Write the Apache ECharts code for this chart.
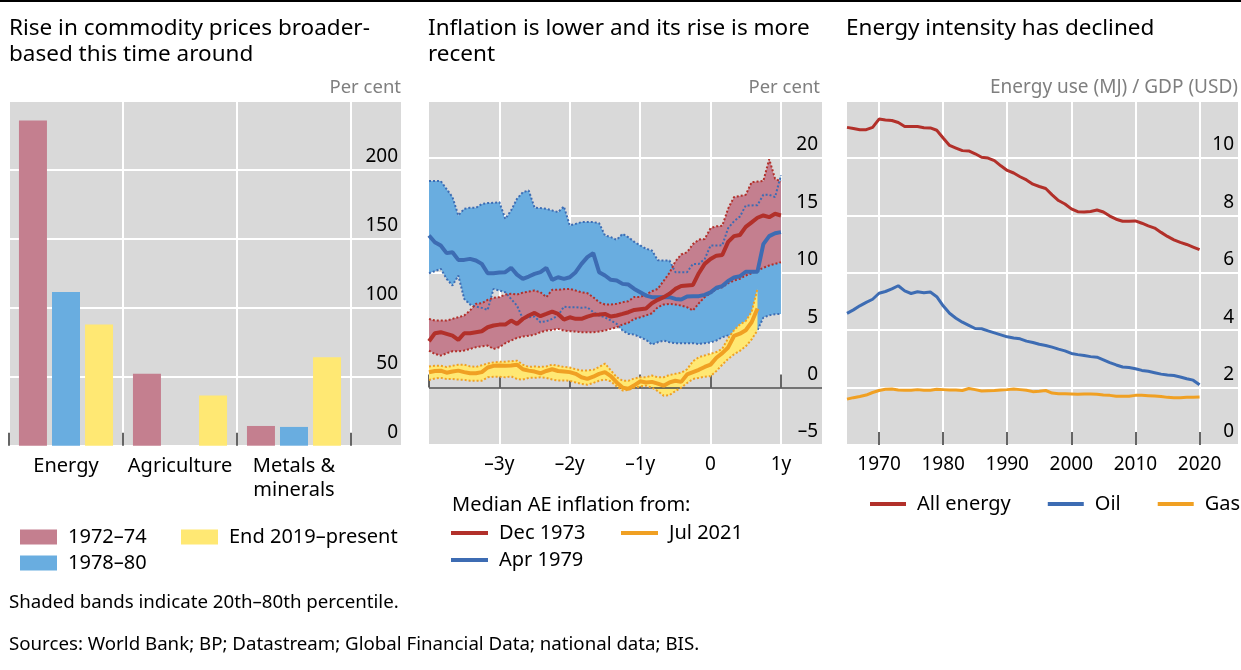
<!DOCTYPE html>
<html lang="en">
<head>
<meta charset="utf-8">
<style>
    html, body {
        margin: 0;
        padding: 0;
        background: #fff;
        overflow: hidden;
    }
    #chart {
        width: 1241px;
        height: 670px;
    }
</style>
</head>
<body>
<div id="chart"></div>
<script src="https://cdn.jsdelivr.net/npm/echarts@6.0.0/dist/echarts.min.js"></script>
<script>
// left panel: rise in commodity prices, per cent
var barCategories = ['Energy', 'Agriculture', 'Metals &\nminerals'];
var rise7274 = [235.7, 52.2, 14.3];
var rise7880 = [111.4, null, 13.6];
var riseEnd19 = [87.9, 36.4, 64.1];

// middle panel: median AE inflation, monthly from -48 to +12 (Jul 2021 to +8)
var dec73Median = [4.04, 4.74, 4.83, 4.68, 4.53, 4.16, 4.74, 4.74, 4.83, 4.91, 5.26, 5.41, 5.49, 5.49, 5.84, 5.55, 5.99, 6.28, 6.51, 6.22,
    6.42, 6.63, 6.42, 5.93, 6.13, 5.99, 5.99, 6.19, 6.34, 6.37, 6.42, 6.19, 6.28, 6.42, 6.57, 6.77, 6.83, 6.89, 7.35, 7.65,
    7.88, 8.17, 8.6, 8.85, 8.9, 8.95, 9.97, 10.78, 11.2, 11.5, 11.55, 12.7, 13.2, 13.3, 14.0, 14.4, 14.8, 15.0, 14.85, 15.15, 15.0];
var dec73Upper = [5.99, 5.84, 5.84, 5.84, 5.99, 6.13, 6.28, 6.72, 7.3, 7.35, 7.65, 7.82, 7.88, 8.11, 8.17, 8.11, 8.28, 8.37, 8.46, 8.31,
    7.88, 8.52, 8.52, 8.58, 8.6, 8.46, 8.31, 8.23, 7.88, 7.44, 7.24, 7.24, 7.3, 7.44, 7.53, 7.9, 7.9, 8.1, 8.4, 8.6,
    9.3, 10.0, 11.0, 11.6, 11.8, 12.5, 12.9, 12.95, 13.9, 14.05, 14.1, 15.6, 16.6, 16.7, 16.8, 17.9, 17.95, 18.0, 19.9, 18.2, 17.95];
var dec73Lower = [3.23, 2.94, 2.79, 2.99, 3.17, 3.17, 3.23, 3.37, 3.52, 3.6, 3.66, 3.37, 3.52, 3.87, 4.1, 4.33, 4.45, 4.51, 4.62, 4.83,
    4.97, 5.03, 5.12, 4.97, 4.91, 4.88, 4.83, 4.83, 4.83, 4.88, 4.97, 5.12, 5.26, 5.5, 5.65, 5.99, 6.13, 6.28, 6.48, 7.0,
    7.24, 7.3, 7.24, 7.15, 7.0, 6.72, 7.35, 7.88, 8.23, 8.6, 8.75, 9.1, 9.33, 9.48, 9.77, 9.97, 10.2, 10.44, 10.64, 10.78, 10.93];
var apr79Median = [13.26, 12.67, 12.38, 11.72, 11.8, 11.13, 11.13, 11.22, 11.08, 10.78, 9.97, 9.97, 10.03, 10.06, 10.44, 9.85, 9.48, 9.68, 9.91, 10.06,
    10.44, 9.39, 9.62, 9.48, 9.62, 10.06, 10.78, 11.37, 11.72, 10.06, 9.77, 9.39, 9.33, 9.04, 8.98, 8.6, 8.31, 8.02, 7.88, 7.88,
    7.88, 7.88, 7.73, 7.67, 7.94, 7.97, 7.97, 8.08, 8.3, 8.7, 8.85, 9.3, 9.6, 9.7, 10.1, 10.1, 10.1, 12.5, 13.2, 13.45, 13.55];
var apr79Upper = [18.0, 18.0, 18.0, 17.3, 16.6, 15.0, 15.58, 15.67, 15.67, 16.0, 16.08, 16.1, 16.16, 14.7, 15.44, 16.45, 17.03, 17.18, 15.67, 15.64,
    15.58, 15.44, 15.29, 15.78, 14.13, 14.27, 14.42, 14.42, 14.42, 14.33, 13.26, 13.11, 12.88, 13.4, 13.1, 12.7, 12.4, 12.1, 11.95, 11.1,
    11.07, 11.07, 10.06, 10.06, 10.06, 10.78, 10.78, 11.2, 12.38, 12.38, 12.4, 13.9, 14.5, 14.9, 15.87, 15.87, 15.9, 16.8, 16.8, 16.6, 18.5];
var apr79Lower = [9.97, 10.15, 10.35, 9.48, 8.9, 9.77, 7.73, 7.24, 7.06, 6.95, 6.77, 8.6, 8.46, 8.31, 7.73, 7.15, 5.99, 6.13, 6.19, 5.7,
    5.78, 5.99, 6.28, 7.06, 7.0, 7.0, 6.95, 7.0, 6.57, 6.28, 6.13, 5.84, 5.55, 4.97, 4.68, 4.62, 4.39, 4.16, 3.75, 3.95,
    4.1, 3.95, 3.87, 3.87, 3.87, 3.87, 3.8, 3.87, 3.95, 4.1, 4.39, 4.55, 4.6, 4.65, 4.8, 4.9, 5.0, 6.1, 6.3, 6.4, 6.42];
var jul21Median = [1.34, 1.45, 1.48, 1.3, 1.4, 1.48, 1.35, 1.25, 1.25, 1.35, 1.75, 1.9, 1.92, 1.9, 1.92, 2.0, 1.6, 1.48, 1.4, 1.25,
    1.45, 1.6, 1.45, 1.4, 1.35, 1.2, 0.9, 0.76, 0.95, 1.2, 1.35, 1.0, 0.45, 0.0, -0.1, 0.2, 0.55, 0.45, 0.5, 0.35,
    0.17, 0.45, 0.6, 0.5, 1.15, 1.35, 1.55, 1.8, 2.0, 2.6, 3.0, 3.5, 4.5, 4.7, 5.0, 5.7, 6.9];
var jul21Upper = [1.83, 1.9, 1.9, 1.8, 1.9, 2.0, 2.0, 1.85, 1.8, 1.95, 2.1, 2.2, 2.25, 2.25, 2.3, 2.35, 2.0, 1.8, 1.85, 1.8,
    1.85, 2.0, 1.9, 1.8, 1.75, 1.6, 1.5, 1.5, 1.55, 1.8, 2.1, 1.5, 0.9, 0.6, 0.6, 0.8, 0.9, 0.9, 1.05, 0.9,
    0.9, 1.1, 1.2, 1.3, 1.6, 2.3, 2.65, 2.8, 2.95, 3.1, 3.4, 4.3, 5.0, 5.5, 5.8, 6.6, 8.6];
var jul21Lower = [0.67, 0.8, 0.85, 0.75, 0.75, 0.7, 0.68, 0.6, 0.6, 0.6, 0.9, 0.95, 0.95, 0.9, 0.98, 0.75, 0.7, 0.85, 0.85, 0.9,
    0.85, 0.7, 0.62, 0.62, 0.6, 0.45, 0.32, 0.25, 0.4, 0.6, 0.7, 0.55, 0.1, -0.25, -0.2, 0.0, 0.1, 0.17, 0.0, -0.3,
    -0.7, -0.65, -0.3, 0.0, 0.4, 0.75, 0.85, 0.95, 1.0, 1.45, 2.0, 2.5, 2.9, 3.2, 3.6, 4.2, 5.0];

// right panel: energy use (MJ) per USD of GDP, 1965-2020
var allEnergy = [11.07, 11.03, 10.99, 10.99, 11.07, 11.36, 11.33, 11.31, 11.24, 11.1, 11.1, 11.1, 11.06, 11.05, 10.97, 10.7,
    10.44, 10.35, 10.26, 10.25, 10.15, 10.03, 10.0, 9.91, 9.73, 9.57, 9.48, 9.35, 9.24, 9.09, 9.01, 8.94,
    8.72, 8.52, 8.4, 8.23, 8.13, 8.12, 8.14, 8.19, 8.12, 7.98, 7.87, 7.8, 7.8, 7.81, 7.73, 7.64,
    7.56, 7.41, 7.27, 7.15, 7.06, 6.99, 6.9, 6.81];
var oil = [4.59, 4.71, 4.85, 4.97, 5.08, 5.29, 5.35, 5.44, 5.55, 5.37, 5.28, 5.34, 5.31, 5.33, 5.17, 4.85,
    4.59, 4.42, 4.28, 4.17, 4.06, 4.05, 3.98, 3.91, 3.84, 3.77, 3.73, 3.7, 3.62, 3.57, 3.51, 3.47,
    3.41, 3.34, 3.28, 3.19, 3.15, 3.12, 3.08, 3.06, 2.97, 2.87, 2.79, 2.72, 2.7, 2.66, 2.6, 2.57,
    2.52, 2.47, 2.44, 2.42, 2.37, 2.31, 2.26, 2.1];
var gas = [1.6, 1.65, 1.69, 1.74, 1.83, 1.9, 1.94, 1.95, 1.92, 1.91, 1.91, 1.93, 1.91, 1.91, 1.94, 1.93,
    1.92, 1.92, 1.9, 1.97, 1.93, 1.88, 1.89, 1.9, 1.92, 1.93, 1.95, 1.93, 1.91, 1.86, 1.87, 1.9,
    1.81, 1.79, 1.79, 1.78, 1.77, 1.78, 1.78, 1.77, 1.74, 1.73, 1.7, 1.7, 1.7, 1.73, 1.73, 1.72,
    1.71, 1.69, 1.66, 1.65, 1.65, 1.66, 1.66, 1.67];

var months = [];
for (var m = -48; m <= 19; m++) months.push(m);
var years = [];
for (var y = 1965; y <= 2026; y++) years.push(String(y));

var FONT = '"Noto Sans", "Open Sans", sans-serif';
var BG = '#d9d9d9';
var TICK = '#333333';
var PINK = '#c47f8f', LIGHTBLUE = '#69ade0', LIGHTYELLOW = '#ffe873';
var RED = '#b2302a', BLUE = '#3d6cb3', ORANGE = '#f0a023';

function dash(v) { return v < 0 ? '\u2013' + (-v) : String(v); }

function rightValueAxis(grid, min, max, step, hideTop) {
    return {
        type: 'value', gridIndex: grid, position: 'right',
        min: min, max: max, interval: step,
        axisLine: {show: false}, axisTick: {show: false},
        splitLine: {show: true, lineStyle: {color: '#fff', width: 2}},
        axisLabel: {
            inside: true, margin: 4, color: '#000', fontFamily: FONT, fontSize: 19,
            verticalAlign: 'bottom', lineHeight: 26,
            formatter: function (v) { return v === hideTop ? '' : dash(v); }
        }
    };
}

function bandSeries(key, lower, upper, fill, z) {
    var diff = upper.map(function (u, i) { return +(u - lower[i]).toFixed(3); });
    return [
        {type: 'line', name: key + ' base', xAxisIndex: 2, yAxisIndex: 2, data: lower, stack: key, stackStrategy: 'all',
            symbol: 'none', lineStyle: {opacity: 0}, silent: true, z: z},
        {type: 'line', name: key + ' band', xAxisIndex: 2, yAxisIndex: 2, data: diff, stack: key, stackStrategy: 'all',
            symbol: 'none', lineStyle: {opacity: 0}, areaStyle: {color: fill, opacity: 1}, silent: true, z: z}
    ];
}

function dottedSeries(name, data, color, z) {
    return {type: 'line', name: name, xAxisIndex: 2, yAxisIndex: 2, data: data, symbol: 'none', silent: true,
        lineStyle: {color: color, width: 2, type: [2, 2]}, z: z};
}

function solidSeries(name, axis, data, color, width, z) {
    return {type: 'line', name: name, xAxisIndex: axis, yAxisIndex: axis, data: data, symbol: 'none', silent: true,
        color: color, lineStyle: {color: color, width: width}, z: z};
}

function text(x, y, str, opts) {
    opts = opts || {};
    return {
        type: 'text', x: x, y: y, silent: true,
        style: {
            text: str, fill: opts.fill || '#000', fontFamily: FONT, fontSize: opts.size || 20,
            lineHeight: opts.lineHeight, align: opts.align || 'left', verticalAlign: opts.va || 'middle'
        }
    };
}

var series = [];
series = series.concat(bandSeries('apr79', apr79Lower, apr79Upper, LIGHTBLUE, 1));
series = series.concat(bandSeries('dec73', dec73Lower, dec73Upper, PINK, 2));
series.push(dottedSeries('apr79 upper', apr79Upper, BLUE, 3));
series.push(dottedSeries('apr79 lower', apr79Lower, BLUE, 3));
series.push(dottedSeries('dec73 upper', dec73Upper, RED, 3));
series.push(dottedSeries('dec73 lower', dec73Lower, RED, 3));
series = series.concat(bandSeries('jul21', jul21Lower, jul21Upper, LIGHTYELLOW, 4));
series.push(dottedSeries('jul21 upper', jul21Upper, ORANGE, 5));
series.push(dottedSeries('jul21 lower', jul21Lower, ORANGE, 5));
series.push({
    type: 'line', name: 'zero', xAxisIndex: 2, yAxisIndex: 2, data: [], silent: true, z: 5,
    markLine: {silent: true, symbol: 'none', label: {show: false}, animation: false,
        lineStyle: {color: '#444', width: 1.5, type: 'solid'}, data: [{yAxis: 0}]}
});
series.push(solidSeries('Apr 1979', 2, apr79Median, BLUE, 4, 6));
series.push(solidSeries('Dec 1973', 2, dec73Median, RED, 4, 7));
series.push(solidSeries('Jul 2021', 2, jul21Median, ORANGE, 4, 8));

series.push(solidSeries('All energy', 3, allEnergy, RED, 3, 3));
series.push(solidSeries('Oil', 3, oil, BLUE, 3, 3));
series.push(solidSeries('Gas', 3, gas, ORANGE, 3, 3));

var barStyle = {xAxisIndex: 1, yAxisIndex: 1, type: 'bar', barWidth: 28, barGap: '18%', silent: true};
series.push(Object.assign({name: '1972\u201374', data: rise7274, itemStyle: {color: PINK}, color: PINK}, barStyle));
series.push(Object.assign({name: '1978\u201380', data: rise7880, itemStyle: {color: LIGHTBLUE}, color: LIGHTBLUE}, barStyle));
series.push(Object.assign({name: 'End 2019\u2013present', data: riseEnd19, itemStyle: {color: LIGHTYELLOW}, color: LIGHTYELLOW}, barStyle));

var legendText = {color: '#000', fontFamily: FONT, fontSize: 20, lineHeight: 22, padding: [0, 0, 0, 6]};
function legend(names, left, top, icon, w, h, orient, gap) {
    return {
        data: names, left: left, top: top, orient: orient || 'vertical', icon: icon,
        itemWidth: w, itemHeight: h, itemGap: gap, selectedMode: false, padding: 0,
        textStyle: legendText
    };
}

var chart = echarts.init(document.getElementById('chart'), null, {renderer: 'canvas'});
chart.setOption({
    animation: false,
    backgroundColor: '#fff',
    textStyle: {fontFamily: FONT},
    grid: [
        {left: 9, top: 100.7, width: 393, height: 345, show: true, backgroundColor: BG, borderWidth: 0, containLabel: false, outerBoundsMode: 'none'},
        {left: 9, top: 100.7, width: 342, height: 345, show: false, containLabel: false, outerBoundsMode: 'none'},
        {left: 429, top: 100.7, width: 393, height: 344.3, show: true, backgroundColor: BG, borderWidth: 0, containLabel: false, outerBoundsMode: 'none'},
        {left: 847, top: 100.7, width: 391, height: 344.3, show: true, backgroundColor: BG, borderWidth: 0, containLabel: false, outerBoundsMode: 'none'}
    ],
    xAxis: [
        {type: 'value', gridIndex: 0, min: 0, max: 393 / 114, interval: 1,
            axisLine: {show: false}, axisTick: {show: false}, axisLabel: {show: false},
            splitLine: {show: true, lineStyle: {color: '#fff', width: 2}}},
        {type: 'category', gridIndex: 1, data: barCategories, boundaryGap: true,
            axisLine: {show: false}, splitLine: {show: false},
            axisTick: {show: true, inside: true, length: 13, interval: 0, lineStyle: {color: TICK, width: 1.5}},
            axisLabel: {color: '#000', fontFamily: FONT, fontSize: 20, lineHeight: 24, margin: 9, interval: 0}},
        {type: 'category', gridIndex: 2, data: months, boundaryGap: false,
            axisLine: {show: false},
            axisTick: {show: true, inside: true, length: 13, lineStyle: {color: TICK, width: 1.5},
                interval: function (i, v) { return Number(v) % 12 === 0; }},
            splitLine: {show: true, lineStyle: {color: '#fff', width: 2},
                interval: function (i, v) { return Number(v) % 12 === 0 && Number(v) !== -48; }},
            axisLabel: {color: '#000', fontFamily: FONT, fontSize: 19, lineHeight: 24, margin: 8,
                interval: function (i, v) { return Number(v) % 12 === 0 && Number(v) !== -48; },
                formatter: function (v) { v = Number(v); return v === 0 ? '0' : dash(v / 12) + 'y'; }}},
        {type: 'category', gridIndex: 3, data: years, boundaryGap: false,
            axisLine: {show: false},
            axisTick: {show: true, inside: true, length: 13, lineStyle: {color: TICK, width: 1.5},
                interval: function (i, v) { return Number(v) % 10 === 0; }},
            splitLine: {show: true, lineStyle: {color: '#fff', width: 2},
                interval: function (i, v) { return Number(v) % 10 === 0; }},
            axisLabel: {color: '#000', fontFamily: FONT, fontSize: 19, lineHeight: 24, margin: 8,
                interval: function (i, v) { return Number(v) % 10 === 0; }}}
    ],
    yAxis: [
        rightValueAxis(0, 0, 250, 50, 250),
        {type: 'value', gridIndex: 1, min: 0, max: 250, show: false},
        rightValueAxis(2, -5, 25, 5, 25),
        rightValueAxis(3, 0, 12, 2, 12)
    ],
    legend: [
        legend(['1972\u201374', '1978\u201380'], 20, 526, 'rect', 37, 15, 'vertical', 4),
        legend(['End 2019\u2013present'], 181, 526, 'rect', 37, 15, 'vertical', 4),
        legend(['Dec 1973', 'Apr 1979'], 451, 522, 'rect', 37, 4, 'vertical', 5),
        legend(['Jul 2021'], 621, 522, 'rect', 37, 4, 'vertical', 5),
        legend(['All energy', 'Oil', 'Gas'], 870, 493, 'rect', 36, 4, 'horizontal', 37)
    ],
    graphic: [
        {type: 'line', silent: true, shape: {x1: 0, y1: 1, x2: 1241, y2: 1}, style: {stroke: '#000', lineWidth: 2}},
        text(9, 16, 'Rise in commodity prices broader-\nbased this time around', {size: 22.5, lineHeight: 26, va: 'top'}),
        text(428, 16, 'Inflation is lower and its rise is more\nrecent', {size: 22.5, lineHeight: 26, va: 'top'}),
        text(846, 16, 'Energy intensity has declined', {size: 22.5, lineHeight: 26, va: 'top'}),
        text(401, 88, 'Per cent', {size: 18.5, fill: '#7f7f7f', align: 'right'}),
        text(820, 88, 'Per cent', {size: 18.5, fill: '#7f7f7f', align: 'right'}),
        text(1238, 88, 'Energy use (MJ) / GDP (USD)', {size: 19, fill: '#7f7f7f', align: 'right'}),
        text(452, 505, 'Median AE inflation from:', {size: 20}),
        text(9, 603, 'Shaded bands indicate 20th\u201380th percentile.', {size: 18.7}),
        text(9, 645, 'Sources: World Bank; BP; Datastream; Global Financial Data; national data; BIS.', {size: 18.7})
    ],
    series: series
});
</script>
</body>
</html>
